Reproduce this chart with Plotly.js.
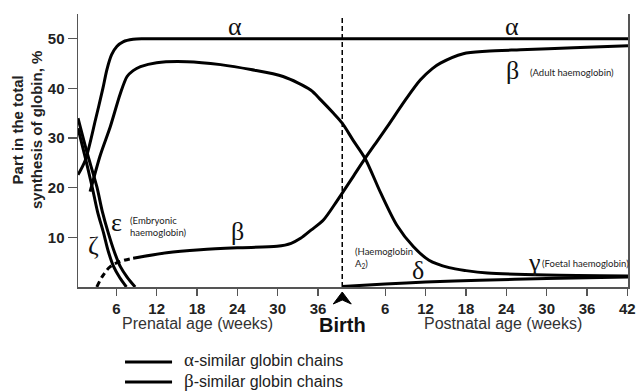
<!DOCTYPE html>
<html>
<head>
<meta charset="utf-8">
<script src="https://cdn.plot.ly/plotly-3.0.1.min.js"></script>
<style>html,body{margin:0;padding:0;background:#fff;}#chart{width:638px;height:392px;}</style>
</head>
<body>
<div id="chart"></div>
<script>
// x values are weeks since conception; birth ~ week 40, postnatal week w plotted at 40 + w
const BIRTH = 39.6;
const POSTNATAL_OFFSET = 40;

// alpha-similar chains
const alphaX = [0.3, 1.4, 2.9, 4.0, 4.6, 5.3, 6.1, 7.0, 8.5, 10.0, 20, 40, 60, 82.1];
const alphaY = [22.6, 25.6, 33.7, 40.0, 43.8, 46.8, 48.5, 49.4, 49.9, 50.0, 50, 50, 50, 50];

const zetaX = [0.3, 1.3, 2.4, 3.2, 4.1, 4.8, 5.6, 6.5, 7.5];
const zetaY = [32.0, 26.5, 20.2, 15.2, 10.9, 7.2, 4.1, 1.9, 0];

// beta-similar chains
const epsilonX = [0.3, 1.6, 3.1, 3.9, 4.8, 5.7, 6.6, 7.6, 8.8];
const epsilonY = [34.0, 27.3, 20.2, 15.3, 10.9, 7.1, 4.1, 2.0, 0];

const gammaX = [2.1, 3.6, 5.1, 6.6, 7.6, 8.5, 9.6, 12.0, 16.5, 21.5, 26, 30.8, 34.9, 36.4, 38.3, 39.6, 41.2, 43.0, 45.3, 47.7, 50.2, 52.5, 55.5, 58, 61.2, 70, 82.1];
const gammaY = [19.2, 26.5, 32.3, 39.0, 42.4, 43.6, 44.4, 45.2, 45.4, 44.8, 43.8, 42.4, 39.7, 37.7, 35.0, 33.0, 29.6, 25.9, 19.0, 12.5, 8.1, 5.4, 3.9, 3.3, 2.8, 2.4, 2.2];

const betaDashX = [3.1, 4.0, 5.1, 6.5, 8.5];
const betaDashY = [0, 2.3, 4.1, 5.1, 5.8];

const betaX = [8.5, 13.5, 18.5, 24, 29.9, 32, 33.4, 35, 36.8, 38.8, 39.6, 41.3, 43.0, 44.8, 46.3, 49.0, 51.2, 53, 54.2, 57.6, 61, 66.1, 74, 82.1];
const betaY = [5.8, 6.9, 7.5, 7.9, 8.2, 8.8, 9.8, 11.5, 13.5, 17.3, 18.9, 22.4, 25.9, 29.4, 32.3, 37.7, 41.7, 44.0, 45.1, 47.0, 47.5, 47.8, 48.2, 48.6];

const deltaX = [39.6, 46, 52, 60, 70, 82.1];
const deltaY = [0.1, 0.6, 1.0, 1.35, 1.7, 2.0];

// ticks
const prenatalTicks = [6, 12, 18, 24, 30, 36];
const postnatalTicks = [6, 12, 18, 24, 30, 36, 42];
const yTicks = [10, 20, 30, 40, 50];

const X_RANGE = [0.3, 82.1];
const Y_RANGE = [0, 55];

const tickvals = prenatalTicks.concat(postnatalTicks.map(w => w + POSTNATAL_OFFSET));
const ticktext = prenatalTicks.concat(postnatalTicks).map(String);

const LINE = {color: '#000', width: 3, shape: 'spline', smoothing: 0.8};
function tr(x, y, extra) {
  return Object.assign({x: x, y: y, type: 'scatter', mode: 'lines', line: Object.assign({}, LINE), showlegend: false, hoverinfo: 'skip', cliponaxis: true}, extra || {});
}
const traces = [
  tr(alphaX, alphaY),
  tr(zetaX, zetaY),
  tr(epsilonX, epsilonY),
  tr(gammaX, gammaY),
  tr(betaDashX, betaDashY, {line: {color: '#000', width: 3, shape: 'spline', dash: '6px,4px'}}),
  tr(betaX, betaY),
  tr(deltaX, deltaY)
];

const SERIF = 'Liberation Serif, DejaVu Serif, serif';
const SANS = 'Liberation Sans, Arial, sans-serif';
const SMALL = 'Lato, Open Sans, sans-serif';
function greek(t, x, y, size) {
  return {text: t, x: x, y: y, xref: 'x', yref: 'y', showarrow: false, font: {family: SERIF, size: size || 26, color: '#111'}, xanchor: 'center', yanchor: 'middle'};
}
function note(t, x, y) {
  return {text: t, x: x, y: y, xref: 'x', yref: 'y', showarrow: false, font: {family: SMALL, size: 9.5, color: '#222'}, xanchor: 'left', yanchor: 'middle', align: 'left'};
}
const birthPaper = (BIRTH - X_RANGE[0]) / (X_RANGE[1] - X_RANGE[0]);

const annotations = [
  greek('α', 23.7, 52.4),
  greek('α', 64.9, 52.4),
  greek('β', 64.9, 43.7),
  note('(Adult haemoglobin)', 67.3, 43.3),
  greek('β', 24.0, 11.1),
  greek('ε', 6.0, 12.9),
  note('(Embryonic<br>haemoglobin)', 7.8, 12.1),
  greek('ζ', 2.6, 8.4),
  note('(Haemoglobin<br>A<sub>2</sub>)', 41.2, 5.8),
  greek('δ', 50.8, 3.4),
  greek('γ', 68.2, 5.0),
  note('(Foetal haemoglobin)', 69.0, 4.8),
  {text: 'Part in the total<br>synthesis of globin, %', xref: 'paper', yref: 'paper', x: -0.0927, y: 0.575, textangle: -90, showarrow: false, font: {family: SANS, size: 15, color: '#222', weight: 'bold'}, xanchor: 'center', yanchor: 'middle'},
  {text: 'Prenatal age (weeks)', xref: 'paper', yref: 'paper', x: 0.2164, y: -0.132, showarrow: false, font: {family: SANS, size: 16, color: '#333'}, xanchor: 'center', yanchor: 'middle'},
  {text: 'Postnatal age (weeks)', xref: 'paper', yref: 'paper', x: 0.7727, y: -0.132, showarrow: false, font: {family: SANS, size: 16, color: '#333'}, xanchor: 'center', yanchor: 'middle'},
  {text: '<b>Birth</b>', xref: 'paper', yref: 'paper', x: birthPaper, y: -0.139, showarrow: false, font: {family: SANS, size: 20, color: '#111'}, xanchor: 'center', yanchor: 'middle'},
  {text: '<span style="font-family:Liberation Serif;font-size:19px">α</span>-similar globin chains<br><span style="font-family:Liberation Serif;font-size:19px">β</span>-similar globin chains', xref: 'paper', yref: 'paper', x: 0.189, y: -0.305, showarrow: false, font: {family: SANS, size: 16, color: '#222'}, xanchor: 'left', yanchor: 'middle', align: 'left'}
];

const shapes = [
  {type: 'line', xref: 'x', yref: 'paper', x0: BIRTH, x1: BIRTH, y0: 0, y1: 0.995, line: {color: '#000', width: 1.5, dash: '5px,3px'}},
  {type: 'path', xref: 'paper', yref: 'paper', xsizemode: 'pixel', ysizemode: 'pixel', xanchor: birthPaper, yanchor: 0, path: 'M0,-5 L-9,-17 L0,-13 L9,-17 Z', fillcolor: '#000', line: {color: '#000', width: 1}},
  {type: 'line', xref: 'paper', yref: 'paper', x0: 0.0855, x1: 0.171, y0: -0.2747, y1: -0.2747, line: {color: '#000', width: 3}},
  {type: 'line', xref: 'paper', yref: 'paper', x0: 0.0855, x1: 0.171, y0: -0.348, y1: -0.348, line: {color: '#000', width: 3}}
];

const layout = {
  width: 638, height: 392,
  margin: {l: 78, r: 10, t: 14, b: 105},
  paper_bgcolor: '#fff', plot_bgcolor: '#fff',
  showlegend: false,
  hovermode: false,
  xaxis: {
    range: X_RANGE, showgrid: false, zeroline: false,
    showline: true, linecolor: '#555', linewidth: 1.5, mirror: false,
    tickmode: 'array', tickvals: tickvals, ticktext: ticktext,
    ticks: 'outside', ticklen: 7, tickwidth: 1.2, tickcolor: '#555',
    tickfont: {family: SANS, size: 15, color: '#222', weight: 'bold'}
  },
  yaxis: {
    range: Y_RANGE, showgrid: false, zeroline: false,
    showline: true, linecolor: '#555', linewidth: 1.5, mirror: true,
    tickmode: 'array', tickvals: yTicks,
    ticks: 'outside', ticklen: 9, tickwidth: 1.2, tickcolor: '#555',
    tickfont: {family: SANS, size: 15, color: '#222', weight: 'bold'}
  },
  annotations: annotations,
  shapes: shapes
};

Plotly.newPlot('chart', traces, layout, {staticPlot: true, displayModeBar: false});
</script>
</body>
</html>
